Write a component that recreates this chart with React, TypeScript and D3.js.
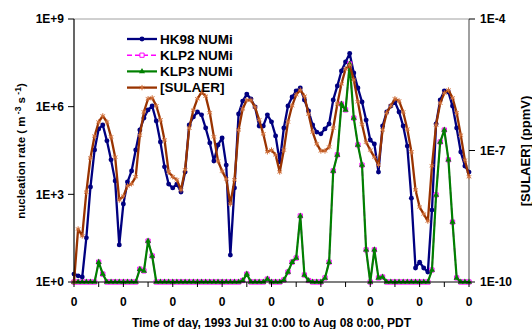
import * as d3 from 'd3';

// values as log10 exponents, one point every 2 hours
// (each row = one day, 12 points), last value is Aug 08 0:00
const hours = d3.range(0, 193, 2);

const hk98Exp = [
  0.27, 0.21, 0.17, 1.51, 3.25, 4.52, 5.24, 5.37, 4.83, 4.18, 3.46, 1.27,
  2.67, 3.42, 3.8, 4.52, 5.2, 5.61, 5.89, 6.02, 5.51, 4.79, 3.94, 3.35,
  3.22, 3.35, 3.08, 3.76, 5.37, 5.65, 5.82, 5.72, 5.27, 4.76, 4.14, 4.69,
  4.93, 4.0, 0.92, 3.22, 5.75, 6.19, 6.43, 6.26, 5.99, 5.34, 5.34, 5.72,
  5.48, 5.0, 4.11, 5.27, 6.02, 6.33, 6.54, 6.64, 6.23, 5.85, 5.37, 5.13,
  5.07, 5.24, 5.41, 6.23, 6.71, 7.22, 7.53, 7.82, 7.15, 6.64, 6.16, 5.54,
  4.86, 4.72, 3.76, 5.34, 5.82, 6.02, 6.16, 5.82, 5.34, 4.65, 2.87, 0.48,
  0.68, 0.48, 0.34, 2.46, 5.41, 6.23, 6.54, 6.5, 6.02, 5.27, 4.45, 3.97,
  3.76,
];

const klp2Exp = [
  0, 0, 0, 0, 0, 0, 0.68, 0.27, 0, 0, 0, 0,
  0, 0, 0, 0, 0.44, 0.38, 1.4, 0.89, 0, 0, 0, 0,
  0, 0, 0, 0, 0, 0, 0, 0, 0, 0, 0, 0,
  0, 0, 0, 0, 0, 0.05, 0.27, 0, 0, 0, 0, 0.1,
  0, 0, 0, 0.07, 0.34, 0.68, 0.82, 2.26, 0.24, 0.05, 0, 0,
  0, 0.14, 0.68, 3.8, 4.35, 6.09, 5.89, 7.46, 5.61, 4.69, 4.0, 1.1,
  0, 1.1, 0.14, 0.17, 0, 0, 0, 0, 0, 0, 0, 0,
  0, 0, 0, 0.41, 2.98, 4.79, 5.2, 4.18, 2.05, 0.14, 0, 0,
  0,
];

const klp3Exp = [
  0, 0, 0, 0, 0, 0, 0.68, 0.27, 0, 0, 0, 0,
  0, 0, 0, 0, 0.44, 0.38, 1.4, 0.89, 0, 0, 0, 0,
  0, 0, 0, 0, 0, 0, 0, 0, 0, 0, 0, 0,
  0, 0, 0, 0, 0, 0.05, 0.27, 0, 0, 0, 0, 0.1,
  0, 0, 0, 0.07, 0.34, 0.68, 0.82, 2.26, 0.24, 0.05, 0, 0,
  0, 0.14, 0.68, 3.8, 4.35, 6.09, 5.89, 7.46, 5.61, 4.69, 4.0, 1.1,
  0, 1.1, 0.14, 0.17, 0, 0, 0, 0, 0, 0, 0, 0,
  0, 0, 0, 0.41, 2.98, 4.79, 5.2, 4.18, 2.05, 0.14, 0, 0,
  0,
];

const sulaerExp = [
  -10.0, -8.79, -8.95, -7.95, -7.17, -6.67, -6.35, -6.21, -6.35, -6.69, -7.15, -8.13,
  -8.04, -7.81, -7.76, -7.6, -6.65, -6.12, -5.82, -5.8, -5.98, -6.3, -6.76, -7.49,
  -7.6, -7.67, -7.9, -7.44, -6.49, -6.08, -5.82, -5.67, -5.76, -6.14, -6.69, -7.24,
  -7.47, -7.65, -8.22, -7.67, -6.53, -6.05, -5.85, -5.85, -6.01, -6.3, -6.62, -7.03,
  -6.99, -7.1, -7.49, -6.99, -6.35, -5.98, -5.73, -5.62, -5.76, -6.17, -6.58, -6.85,
  -7.01, -7.01, -6.92, -6.49, -5.94, -5.48, -5.14, -5.05, -5.39, -5.89, -6.4, -6.81,
  -6.99, -7.15, -7.33, -6.53, -6.14, -5.98, -5.82, -5.87, -6.12, -6.51, -7.03, -7.9,
  -8.29, -8.45, -8.61, -7.35, -6.42, -5.92, -5.69, -5.62, -5.8, -6.14, -6.65, -7.22,
  -7.6,
];

const leftTicks = [1, 1e3, 1e6, 1e9];
const leftTickLabels = ['1E+0', '1E+3', '1E+6', '1E+9'];
const rightTicks = [1e-10, 1e-7, 1e-4];
const rightTickLabels = ['1E-10', '1E-7', '1E-4'];
const xTickHours = d3.range(0, 193, 12);
const legendNames = ['HK98 NUMi', 'KLP2 NUMi', 'KLP3 NUMi', '[SULAER]'];

const width = 532;
const height = 329;
const margin = { left: 74, right: 63, top: 19, bottom: 47 };
const font = "Arial, 'Liberation Sans', Helvetica, sans-serif";

function App() {
  const x = d3
    .scaleLinear()
    .domain([0, 192])
    .range([margin.left, width - margin.right]);
  const yLeft = d3
    .scaleLog()
    .domain([1, 1e9])
    .range([height - margin.bottom, margin.top]);
  const yRight = d3
    .scaleLog()
    .domain([1e-10, 1e-4])
    .range([height - margin.bottom, margin.top]);

  const toPoints = (exps: number[]) =>
    exps.map((e, i) => [hours[i], Math.pow(10, e)] as [number, number]);

  const series = [
    {
      pts: toPoints(hk98Exp),
      y: yLeft,
      color: '#000080',
      width: 2.3,
      dash: null,
      symbol: d3.symbolCircle,
      size: 19,
      fill: '#000080',
      stroke: 'none',
    },
    {
      pts: toPoints(klp2Exp),
      y: yLeft,
      color: '#ff00ff',
      width: 1.6,
      dash: '5,3',
      symbol: d3.symbolSquare,
      size: 18,
      fill: '#ffffff',
      stroke: '#ff00ff',
    },
    {
      pts: toPoints(klp3Exp),
      y: yLeft,
      color: '#008000',
      width: 2.2,
      dash: null,
      symbol: d3.symbolTriangle,
      size: 16,
      fill: '#008000',
      stroke: 'none',
    },
    {
      pts: toPoints(sulaerExp),
      y: yRight,
      color: '#993300',
      width: 2.3,
      dash: null,
      symbol: d3.symbolAsterisk,
      size: 20,
      fill: 'none',
      stroke: '#d0703a',
    },
  ];

  const bottom = height - margin.bottom;
  const right = width - margin.right;

  const drawMarker = (s, cx, cy, key) => (
    <path
      key={key}
      transform={`translate(${cx},${cy})`}
      d={d3.symbol().type(s.symbol).size(s.size)()}
      fill={s.fill}
      stroke={s.stroke}
      strokeWidth={1}
    />
  );

  return (
    <svg
      width={width}
      height={height}
      style={{ position: 'absolute', left: 0, top: 0, background: '#fff' }}
      fontFamily={font}
      fontWeight="bold"
    >
      <rect width={width} height={height} fill="#fff" />
      {/* plot frame */}
      <line x1={margin.left} x2={right} y1={margin.top} y2={margin.top} stroke="#a0a0a0" />
      <line x1={right} x2={right} y1={margin.top} y2={bottom} stroke="#808080" strokeWidth={1.5} />

      {/* series */}
      {series.map((s, i) => {
        const line = d3
          .line<[number, number]>()
          .x((d) => x(d[0]))
          .y((d) => s.y(d[1]));
        return (
          <g key={i}>
            <path
              d={line(s.pts)}
              fill="none"
              stroke={s.color}
              strokeWidth={s.width}
              strokeDasharray={s.dash || undefined}
              strokeLinejoin="round"
            />
            {s.pts.map((d, j) => drawMarker(s, x(d[0]), s.y(d[1]), j))}
          </g>
        );
      })}

      {/* left axis */}
      <line x1={margin.left} x2={margin.left} y1={margin.top} y2={bottom} stroke="#000" strokeWidth={1.2} />
      {leftTicks.map((t, i) => (
        <g key={t} transform={`translate(0,${yLeft(t)})`}>
          <line x1={margin.left - 6} x2={margin.left} stroke="#000" />
          <text x={margin.left - 10} dy="0.35em" textAnchor="end" fontSize={12}>
            {leftTickLabels[i]}
          </text>
        </g>
      ))}

      {/* right axis */}
      {rightTicks.map((t, i) => (
        <g key={t} transform={`translate(0,${yRight(t)})`}>
          <line x1={right} x2={right + 6} stroke="#000" />
          <text x={right + 11} dy="0.35em" fontSize={12}>
            {rightTickLabels[i]}
          </text>
        </g>
      ))}

      {/* bottom axis */}
      <line x1={margin.left} x2={right} y1={bottom} y2={bottom} stroke="#000" strokeWidth={1.2} />
      {xTickHours.map((h) => (
        <g key={h} transform={`translate(${x(h)},${bottom})`}>
          <line y1={0} y2={5} stroke="#000" />
          {h % 24 === 0 && (
            <text y={24} textAnchor="middle" fontSize={12}>
              {String(h % 24)}
            </text>
          )}
        </g>
      ))}
      <text x={(margin.left + right) / 2} y={327} textAnchor="middle" fontSize={12}>
        Time of day, 1993 Jul 31 0:00 to Aug 08 0:00, PDT
      </text>

      {/* axis titles */}
      <text transform="translate(25,151) rotate(-90)" textAnchor="middle" fontSize={11.5}>
        nucleation rate ( m
        <tspan dy={-4} fontSize={8.5}> -3</tspan>
        <tspan dy={4}> s</tspan>
        <tspan dy={-4} fontSize={8.5}> -1</tspan>
        <tspan dy={4}>)</tspan>
      </text>
      <text transform="translate(530,151) rotate(-90)" textAnchor="middle" fontSize={13}>
        [SULAER] (ppmV)
      </text>

      {/* legend */}
      {series.map((s, i) => {
        const ly = 39 + i * 16.2;
        return (
          <g key={i}>
            <line
              x1={127}
              x2={157}
              y1={ly}
              y2={ly}
              stroke={s.color}
              strokeWidth={s.width}
              strokeDasharray={s.dash || undefined}
            />
            {drawMarker(s, 142, ly, 'm')}
            <text x={160} y={ly} dy="0.36em" fontSize={13.5}>
              {legendNames[i]}
            </text>
          </g>
        );
      })}
    </svg>
  );
}

export default App;
